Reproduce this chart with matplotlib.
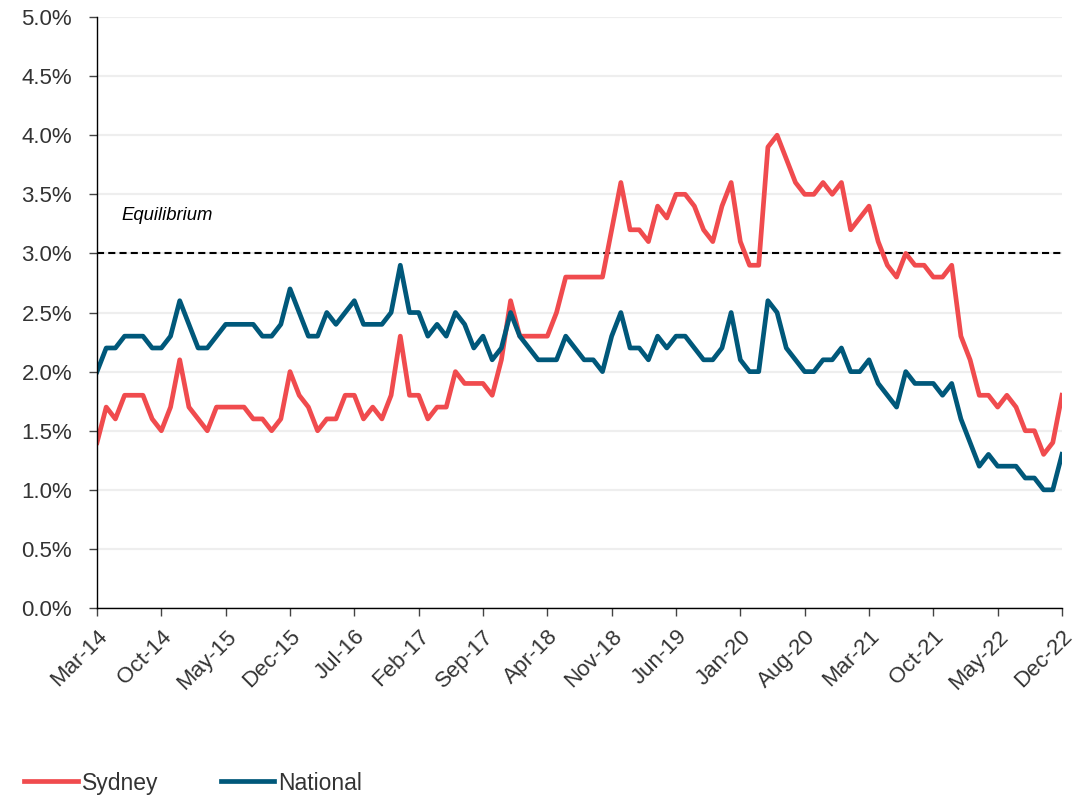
import matplotlib

matplotlib.use("Agg")
import matplotlib.pyplot as plt
from matplotlib.ticker import FuncFormatter

# monthly vacancy rate (%), Mar-14 .. Dec-22
sydney = [
    1.4, 1.7, 1.6, 1.8, 1.8, 1.8, 1.6, 1.5, 1.7, 2.1, 1.7, 1.6, 1.5, 1.7, 1.7, 1.7,
    1.7, 1.6, 1.6, 1.5, 1.6, 2.0,
    1.8, 1.7, 1.5, 1.6, 1.6, 1.8, 1.8, 1.6, 1.7, 1.6, 1.8, 2.3, 1.8, 1.8, 1.6, 1.7,
    1.7, 2.0, 1.9, 1.9, 1.9,
    1.8, 2.1, 2.6, 2.3, 2.3, 2.3, 2.3, 2.5, 2.8, 2.8, 2.8, 2.8, 2.8, 3.2, 3.6, 3.2,
    3.2, 3.1, 3.4, 3.3,
    3.5, 3.5, 3.4, 3.2, 3.1, 3.4, 3.6, 3.1, 2.9, 2.9, 3.9, 4.0, 3.8, 3.6, 3.5, 3.5,
    3.6, 3.5, 3.6, 3.2, 3.3,
    3.4, 3.1, 2.9, 2.8, 3.0, 2.9, 2.9, 2.8, 2.8, 2.9, 2.3, 2.1, 1.8, 1.8, 1.7, 1.8,
    1.7, 1.5, 1.5, 1.3, 1.4, 1.8,
]
national = [
    2.0, 2.2, 2.2, 2.3, 2.3, 2.3, 2.2, 2.2, 2.3, 2.6, 2.4, 2.2, 2.2, 2.3, 2.4, 2.4,
    2.4, 2.4, 2.3, 2.3, 2.4, 2.7,
    2.5, 2.3, 2.3, 2.5, 2.4, 2.5, 2.6, 2.4, 2.4, 2.4, 2.5, 2.9, 2.5, 2.5, 2.3, 2.4,
    2.3, 2.5, 2.4, 2.2, 2.3,
    2.1, 2.2, 2.5, 2.3, 2.2, 2.1, 2.1, 2.1, 2.3, 2.2, 2.1, 2.1, 2.0, 2.3, 2.5, 2.2,
    2.2, 2.1, 2.3, 2.2,
    2.3, 2.3, 2.2, 2.1, 2.1, 2.2, 2.5, 2.1, 2.0, 2.0, 2.6, 2.5, 2.2, 2.1, 2.0, 2.0,
    2.1, 2.1, 2.2, 2.0, 2.0,
    2.1, 1.9, 1.8, 1.7, 2.0, 1.9, 1.9, 1.9, 1.8, 1.9, 1.6, 1.4, 1.2, 1.3, 1.2, 1.2,
    1.2, 1.1, 1.1, 1.0, 1.0, 1.3,
]
tick_labels = [
    "Mar-14", "Oct-14", "May-15", "Dec-15", "Jul-16", "Feb-17", "Sep-17", "Apr-18",
    "Nov-18", "Jun-19", "Jan-20", "Aug-20", "Mar-21", "Oct-21", "May-22", "Dec-22",
]
equilibrium = 3.0

RED = "#F04B4E"
BLUE = "#00587A"
TEXT = "#333333"

plt.rcParams["font.family"] = ["Liberation Sans", "DejaVu Sans"]

fig = plt.figure(figsize=(10.84, 7.99), dpi=100)
ax = fig.add_axes([0.0895, 0.239, 0.8902, 0.7397])

months = list(range(len(sydney)))
ax.plot(months, sydney, color=RED, lw=3.4, label="Sydney", solid_joinstyle="round")
ax.plot(months, national, color=BLUE, lw=3.4, label="National", solid_joinstyle="round")

ax.axhline(equilibrium, color="black", lw=1.5, ls=(0, (3.4, 2.0)), zorder=1)
ax.text(2.7, equilibrium + 0.32, "Equilibrium", style="italic", fontsize=13.3,
        color="black", va="center", ha="left")

ax.set_xlim(0, len(sydney) - 1)
ax.set_ylim(0, 5)
ax.set_yticks([i * 0.5 for i in range(11)])
ax.yaxis.set_major_formatter(FuncFormatter(lambda v, _: f"{v:.1f}%"))
ax.set_xticks(list(range(0, len(sydney), 7)))
ax.set_xticklabels(tick_labels, rotation=45, ha="right", rotation_mode="anchor")

ax.grid(axis="y", color="#eeeeee", lw=1.6, zorder=0)
ax.set_axisbelow(True)
for side in ("top", "right"):
    ax.spines[side].set_visible(False)
for side in ("left", "bottom"):
    ax.spines[side].set_color("black")
    ax.spines[side].set_linewidth(1.0)
ax.tick_params(axis="both", length=6, width=1, color="#444444",
               labelsize=16, labelcolor=TEXT)
ax.tick_params(axis="y", pad=12)
ax.tick_params(axis="x", pad=7)

fig.legend(loc="center left", bbox_to_anchor=(0.012, 0.02), ncol=2, frameon=False,
           fontsize=16.5, handlelength=2.35, handletextpad=0.17, columnspacing=2.7,
           borderpad=0, labelcolor=TEXT)

fig.savefig("out.png", dpi=100)
